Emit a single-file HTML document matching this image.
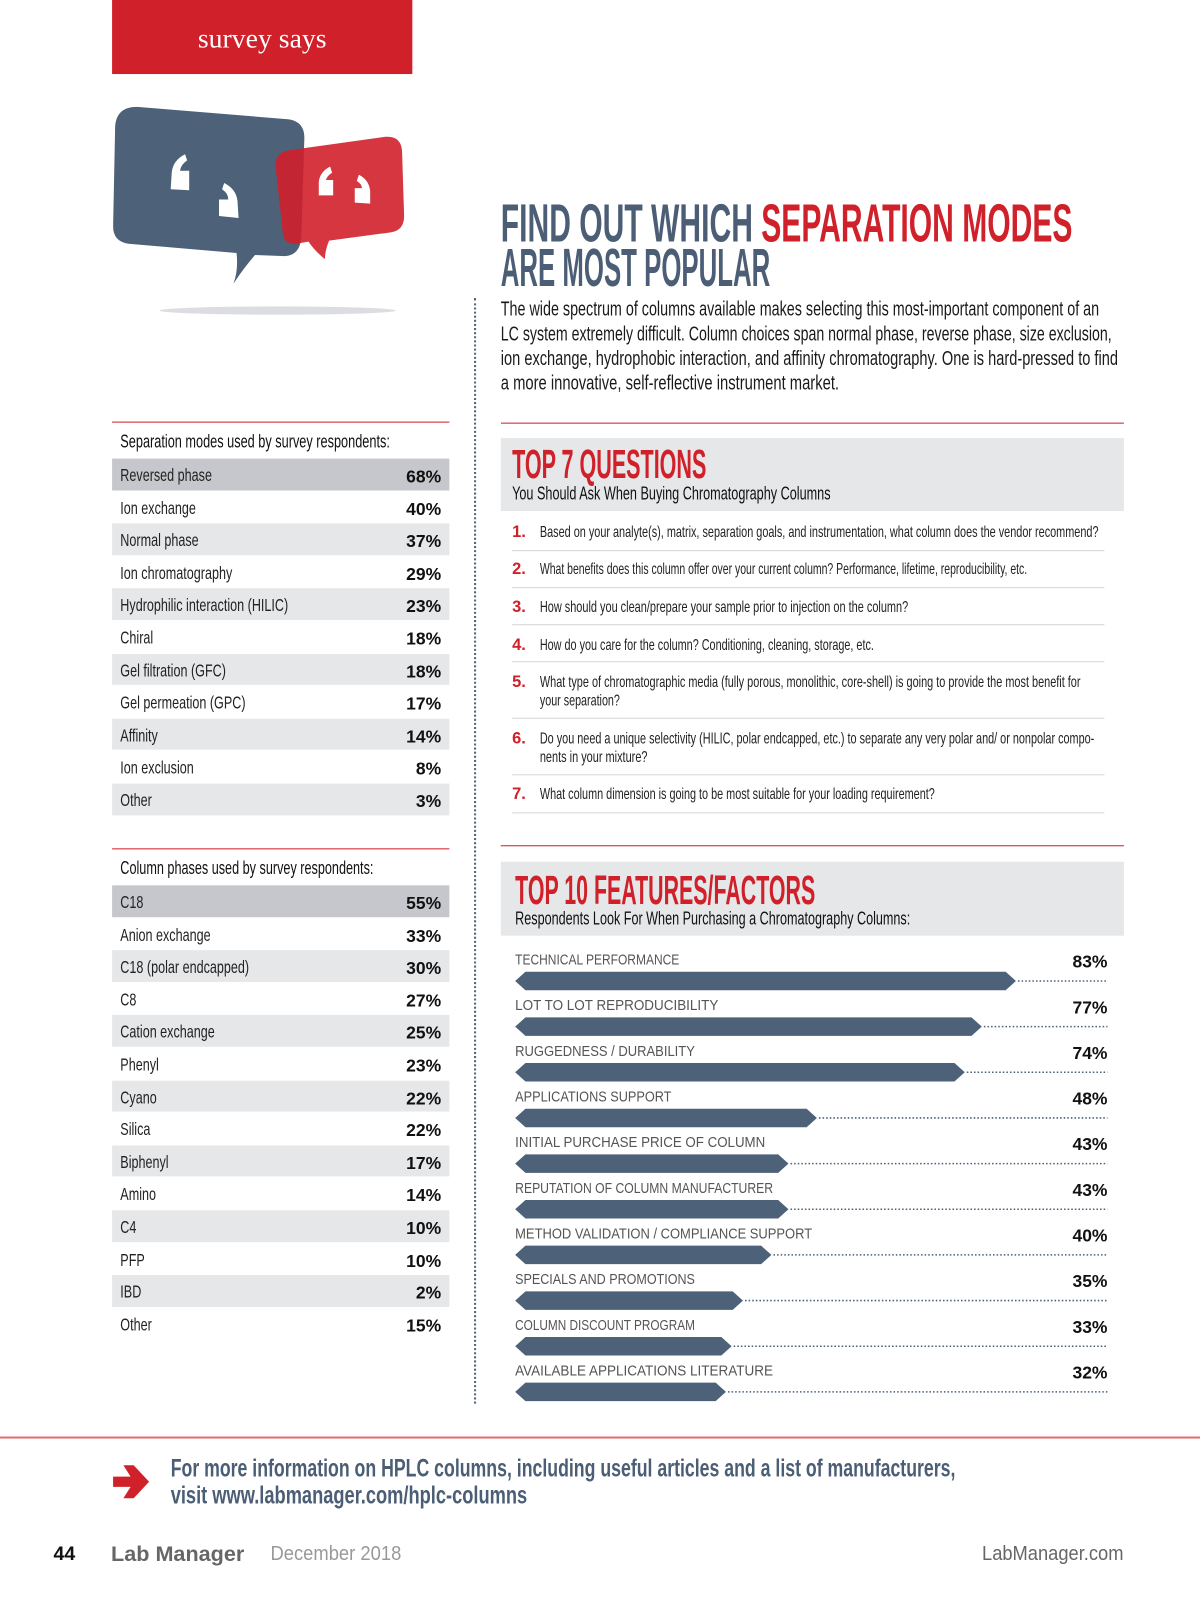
<!DOCTYPE html>
<html><head><meta charset="utf-8">
<style>
html,body{margin:0;padding:0;background:#fff;}
body{width:1200px;height:1613px;overflow:hidden;position:relative;}
#page{position:absolute;left:0;top:0;width:1167px;height:1569px;transform:scale(1.02828);transform-origin:0 0;font-family:"Liberation Sans",sans-serif;}
.a{position:absolute;white-space:nowrap;line-height:1;}
.fit{display:inline-block;transform-origin:0 50%;}
.slate{color:#4b5e75;}
.red{color:#d0202a;}
.hl{position:absolute;height:1px;}
</style></head>
<body>
<div id="page">

<div class="a" style="left:109px;top:0;width:292px;height:72px;background:#d0202a;"></div>
<div class="a" style="left:109px;top:24px;width:292px;text-align:center;color:#fff;font-family:'Liberation Serif',serif;font-size:27px;">survey says</div>

<svg class="a" style="left:0;top:0" width="460" height="320">
  <ellipse cx="270" cy="302" rx="115" ry="4" fill="#dcdde0"/>
  <path d="M135,104 L280,116 Q296,118 296,134 L293,230 Q292,250 274,249 L248,248 Q236,262 227,276 Q232,262 230,246 L125,237 Q110,235 110,220 L112,122 Q114,103 135,104 Z" fill="#4d6178"/>
  <g fill="#fff">
    <path d="M166,184 L167,168 Q168,156 180,150 L182,156 Q176,160 175,166 L184,166 L184,185 Z"/>
    <path d="M232,212 L231,196 Q230,184 218,178 L216,184 Q222,188 222,194 L213,194 L213,210 Z"/>
  </g>
  <path d="M282,146 L375,133 Q390,132 391,147 L393,210 Q393,224 380,226 L320,234 Q316,244 316,252 Q306,244 300,235 L288,237 Q276,238 275,226 L268,162 Q267,148 282,146 Z" fill="#d0202a" fill-opacity="0.9"/>
  <g fill="#fff">
    <path d="M310,190 L310,177 Q311,167 321,162 L323,168 Q318,171 317,175 L324,175 L324,190 Z"/>
    <path d="M360,198 L360,186 Q359,175 349,170 L347,176 Q352,179 352,183 L345,183 L345,197 Z"/>
  </g>
</svg>

<div class="a" style="left:461px;top:290px;height:1075px;border-left:2px dotted #55657a;"></div>

<div class="a" style="left:487px;top:192px;font-size:52px;font-weight:bold;"><span class="fit" data-w="556"><span class="slate">FIND OUT WHICH </span><span class="red">SEPARATION MODES</span></span></div>
<div class="a slate" style="left:487px;top:235px;font-size:52px;font-weight:bold;"><span class="fit" data-w="262">ARE MOST POPULAR</span></div>
<div>
<div class="a" style="left:487px;top:291px;font-size:20px;color:#1a1a1a;"><span class="fit" data-w="582">The wide spectrum of columns available makes selecting this most-important component of an</span></div>
<div class="a" style="left:487px;top:315px;font-size:20px;color:#1a1a1a;"><span class="fit" data-w="594">LC system extremely difficult. Column choices span normal phase, reverse phase, size exclusion,</span></div>
<div class="a" style="left:487px;top:339px;font-size:20px;color:#1a1a1a;"><span class="fit" data-w="600">ion exchange, hydrophobic interaction, and affinity chromatography. One is hard-pressed to find</span></div>
<div class="a" style="left:487px;top:363px;font-size:20px;color:#1a1a1a;"><span class="fit" data-w="329">a more innovative, self-reflective instrument market.</span></div>
</div>

<div class="hl" style="left:487px;top:411px;width:606px;background:#d0202a;"></div>
<div class="hl" style="left:109px;top:410px;width:328px;background:#d0202a;"></div>

<div class="a" style="left:487px;top:426px;width:606px;height:71px;background:#e6e7e9;"></div>
<div class="a red" style="left:498px;top:432px;font-size:40px;font-weight:bold;"><span class="fit" data-w="189">TOP 7 QUESTIONS</span></div>
<div class="a" style="left:498px;top:471px;font-size:18px;color:#111;"><span class="fit" data-w="310">You Should Ask When Buying Chromatography Columns</span></div>
<div id="questions"></div>

<div class="hl" style="left:487px;top:822px;width:606px;background:#d0202a;"></div>
<div class="hl" style="left:109px;top:825px;width:328px;background:#d0202a;"></div>

<div class="a" style="left:487px;top:838px;width:606px;height:72px;background:#e6e7e9;"></div>
<div class="a red" style="left:501px;top:846px;font-size:40px;font-weight:bold;"><span class="fit" data-w="292">TOP 10 FEATURES/FACTORS</span></div>
<div class="a" style="left:501px;top:884px;font-size:18px;color:#111;"><span class="fit" data-w="384">Respondents Look For When Purchasing a Chromatography Columns:</span></div>
<svg id="bars" class="a" style="left:0;top:0" width="1167" height="1400"></svg>

<div class="a" style="left:117px;top:420px;font-size:18px;color:#111;"><span class="fit" data-w="262">Separation modes used by survey respondents:</span></div>
<div id="modes"></div>
<div class="a" style="left:117px;top:835px;font-size:18px;color:#111;"><span class="fit" data-w="246">Column phases used by survey respondents:</span></div>
<div id="phases"></div>

<div class="hl" style="left:0;top:1397px;width:1167px;height:2px;background:#e07070;"></div>
<svg class="a" style="left:105px;top:1422px" width="45" height="40"><path d="M5,14 L22,14 L15,3 L25,3 L40,19 L25,35 L15,35 L22,24 L5,24 Z" fill="#d0202a"/></svg>
<div class="a slate" style="left:166px;top:1417px;font-size:24px;font-weight:bold;"><span class="fit" data-w="763">For more information on HPLC columns, including useful articles and a list of manufacturers,</span></div>
<div class="a slate" style="left:166px;top:1443px;font-size:24px;font-weight:bold;"><span class="fit" data-w="347">visit www.labmanager.com/hplc-columns</span></div>
<div class="a" style="left:52px;top:1502px;font-size:19px;font-weight:bold;color:#111;">44</div>
<div class="a" style="left:108px;top:1501px;font-size:21px;font-weight:bold;color:#666;"><span class="fit" data-w="130">Lab Manager</span></div>
<div class="a" style="left:263px;top:1501px;font-size:20px;color:#999;"><span class="fit" data-w="127">December 2018</span></div>
<div class="a" style="left:955px;top:1501px;font-size:20px;color:#666;"><span class="fit" data-w="138">LabManager.com</span></div>
</div>

<script>
const modeLabels = ["Reversed phase","Ion exchange","Normal phase","Ion chromatography","Hydrophilic interaction (HILIC)","Chiral","Gel filtration (GFC)","Gel permeation (GPC)","Affinity","Ion exclusion","Other"];
const modeValues = [68,40,37,29,23,18,18,17,14,8,3];
const phaseLabels = ["C18","Anion exchange","C18 (polar endcapped)","C8","Cation exchange","Phenyl","Cyano","Silica","Biphenyl","Amino","C4","PFP","IBD","Other"];
const phaseValues = [55,33,30,27,25,23,22,22,17,14,10,10,2,15];
const featureLabels = ["TECHNICAL PERFORMANCE","LOT TO LOT REPRODUCIBILITY","RUGGEDNESS / DURABILITY","APPLICATIONS SUPPORT","INITIAL PURCHASE PRICE OF COLUMN","REPUTATION OF COLUMN MANUFACTURER","METHOD VALIDATION / COMPLIANCE SUPPORT","SPECIALS AND PROMOTIONS","COLUMN DISCOUNT PROGRAM","AVAILABLE APPLICATIONS LITERATURE"];
const featureValues = [83,77,74,48,43,43,40,35,33,32];
const questions = [
 ["Based on your analyte(s), matrix, separation goals, and instrumentation, what column does the vendor recommend?"],
 ["What benefits does this column offer over your current column? Performance, lifetime, reproducibility, etc."],
 ["How should you clean/prepare your sample prior to injection on the column?"],
 ["How do you care for the column? Conditioning, cleaning, storage, etc."],
 ["What type of chromatographic media (fully porous, monolithic, core-shell) is going to provide the most benefit for","your separation?"],
 ["Do you need a unique selectivity (HILIC, polar endcapped, etc.) to separate any very polar and/ or nonpolar compo-","nents in your mixture?"],
 ["What column dimension is going to be most suitable for your loading requirement?"]
];
const questionWidths = [[543],[474],[358],[325],[526,78],[539,105],[384]];

function mk(parent, tag, cls){ const e=document.createElement(tag); if(cls) e.className=cls; parent.appendChild(e); return e; }

function table(host, labels, values, top){
  const pitch = 31.6;
  labels.forEach((lab,i)=>{
    const y = top + i*pitch;
    if(i%2===0){
      const bg = mk(host,'div','a');
      
      
      bg.style.cssText=`left:109px;top:${y}px;width:328px;height:${pitch-1}px;background:${i===0?'#c6c7cc':'#e6e7e9'};`;
    }
    const l = mk(host,'div','a');
    
    
    l.style.cssText=`left:117px;top:${y+8}px;font-size:17px;color:#222;`;
    l.innerHTML=`<span class="fit" data-sx="0.72">${lab}</span>`;
    const v = mk(host,'div','a');
    
    
    v.style.cssText=`left:329px;width:100px;text-align:right;top:${y+9}px;font-size:17px;font-weight:bold;color:#111;`;
    v.textContent = values[i]+'%';
  });
}
table(document.getElementById('modes'), modeLabels, modeValues, 446);
table(document.getElementById('phases'), phaseLabels, phaseValues, 861);

const qh = document.getElementById('questions');
const qTops = [510,546,583,620,656,711,765];
const qLines = [535,571,607,643,698,753,790];
questions.forEach((q,i)=>{
  const n = mk(qh,'div','a red');
  
  
  n.style.cssText=`left:498px;top:${qTops[i]}px;font-size:16px;font-weight:bold;`;
  n.textContent=(i+1)+'.';
  q.forEach((line,j)=>{
    const t = mk(qh,'div','a');
    
    
    t.style.cssText=`left:525px;top:${qTops[i]+j*18}px;font-size:15px;color:#222;`;
    t.innerHTML=`<span class="fit" data-w="${questionWidths[i][j]}">${line}</span>`;
  });
  const r = mk(qh,'div','hl');
  
  
  r.style.cssText=`left:498px;top:${qLines[i]}px;width:576px;background:#d5d6d9;`;
});

const svg = document.getElementById('bars');
const NS='http://www.w3.org/2000/svg';
const x0 = 501, xZero = 529, pxPer = 5.53, xEnd = 1077;
const xScale = v => xZero + v*pxPer;
const yRow = i => 932 + i*44.4;
featureLabels.forEach((lab,i)=>{
  const yl = yRow(i), yb = yl+22, tip = xScale(featureValues[i]), h=9;
  const p = document.createElementNS(NS,'polygon');
  
  
  p.setAttribute('points',`${x0},${yb} ${x0+10},${yb-h} ${tip-10},${yb-h} ${tip},${yb} ${tip-10},${yb+h} ${x0+10},${yb+h}`);
  p.setAttribute('fill','#4d6178');
  svg.appendChild(p);
  const d = document.createElementNS(NS,'line');
  
  
  d.setAttribute('x1',tip+2); d.setAttribute('x2',xEnd); d.setAttribute('y1',yb); d.setAttribute('y2',yb);
  d.setAttribute('stroke','#4d6178'); d.setAttribute('stroke-width','1.5'); d.setAttribute('stroke-dasharray','1.5 2');
  svg.appendChild(d);
  const t = document.createElementNS(NS,'text');
  
  
  t.setAttribute('x',x0); t.setAttribute('y',yl+6);
  t.setAttribute('font-size','14'); t.setAttribute('fill','#555');
  t.setAttribute('font-family','Liberation Sans, sans-serif');
  t.setAttribute('textLength', lab.length*7.6); t.setAttribute('lengthAdjust','spacingAndGlyphs');
  t.textContent=lab;
  svg.appendChild(t);
  const v = document.createElementNS(NS,'text');
  
  
  v.setAttribute('x',xEnd); v.setAttribute('y',yl+9);
  v.setAttribute('text-anchor','end'); v.setAttribute('font-size','17'); v.setAttribute('font-weight','bold');
  v.setAttribute('font-family','Liberation Sans, sans-serif'); v.setAttribute('fill','#111');
  v.textContent=featureValues[i]+'%';
  svg.appendChild(v);
});

document.querySelectorAll('.fit').forEach(el=>{
  const w = el.offsetWidth;
  let s;
  if(el.dataset.w) s = parseFloat(el.dataset.w)/w;
  else s = parseFloat(el.dataset.sx||1);
  el.style.transform = `scaleX(${s})`;
});
</script>
</body></html>
